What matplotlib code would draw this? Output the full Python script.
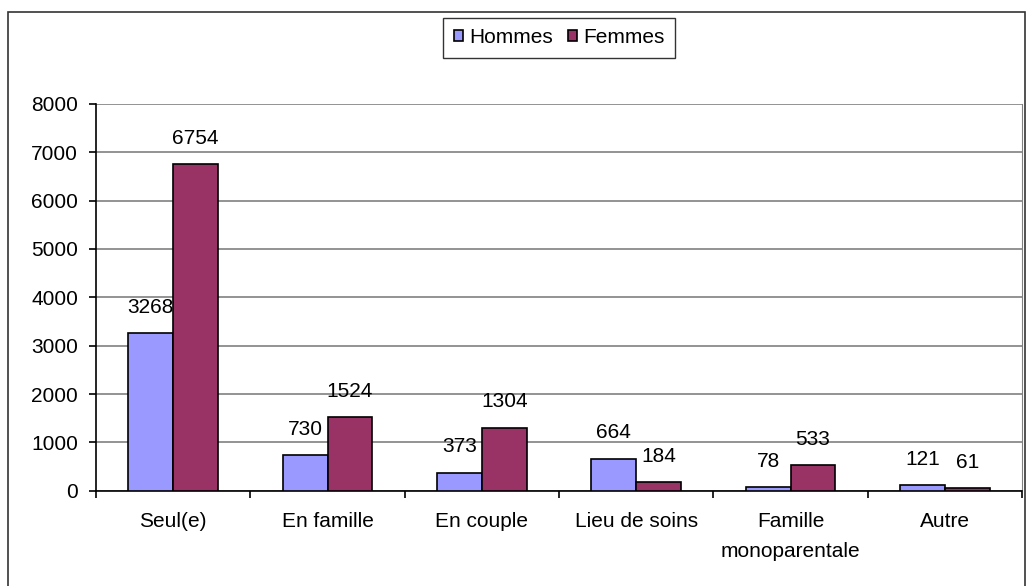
import matplotlib
matplotlib.use("Agg")
import matplotlib.pyplot as plt
import numpy as np
from matplotlib.patches import Rectangle

plt.rcParams['font.family'] = ['Liberation Sans', 'DejaVu Sans']

categories = ["Seul(e)", "En famille", "En couple", "Lieu de soins",
              "Famille\nmonoparentale", "Autre"]
hommes = [3268, 730, 373, 664, 78, 121]
femmes = [6754, 1524, 1304, 184, 533, 61]

fig = plt.figure(figsize=(10.29, 5.86), dpi=100)
ax = fig.add_axes([0.0933, 0.1626, 0.9000, 0.66])

# outer chart frame
fig.patches.append(Rectangle((8 / 1029, -0.05), (1025 - 8) / 1029, (586 - 12) / 586 + 0.05,
                             transform=fig.transFigure, fill=False,
                             edgecolor='#333333', linewidth=1.2, clip_on=False))

x = np.arange(len(categories))
w = 0.29
ax.bar(x - w / 2, hommes, w, color='#9999FF', edgecolor='black', linewidth=1.2,
       label='Hommes', zorder=3)
ax.bar(x + w / 2, femmes, w, color='#993366', edgecolor='black', linewidth=1.2,
       label='Femmes', zorder=3)

for xs, vals in ((x - w / 2, hommes), (x + w / 2, femmes)):
    for xi, v in zip(xs, vals):
        ax.annotate(str(v), (xi, v), xytext=(0, 18.5), textcoords='offset points',
                    ha='center', va='center', fontsize=15, zorder=4)

ax.set_xlim(-0.5, len(categories) - 0.5)
ax.set_ylim(0, 8000)
ax.set_yticks(np.arange(0, 8001, 1000))
ax.yaxis.grid(True, color='#808080', linewidth=1.2, zorder=0)
ax.set_xticks(np.arange(-0.5, len(categories), 1))
ax.set_xticklabels([])
ax.set_xticks(x, minor=True)
ax.set_xticklabels(categories, minor=True, fontsize=15, linespacing=1.75, va='top')
ax.tick_params(axis='x', which='minor', length=0, pad=15)
ax.tick_params(axis='x', which='major', length=5, width=1.2, direction='out')
ax.tick_params(axis='y', length=5, width=1.2, labelsize=15, pad=8)

ax.spines['top'].set_visible(False)
ax.spines['right'].set_color('#808080')
ax.spines['left'].set_linewidth(1.2)
ax.spines['bottom'].set_linewidth(1.2)

leg = ax.legend(loc='center', bbox_to_anchor=(0.5, 1.171), ncol=2, fontsize=15,
                frameon=True, fancybox=False, edgecolor='black', handlelength=0.45,
                handleheight=0.45, handletextpad=0.3, columnspacing=0.7,
                borderpad=0.5)
leg.get_frame().set_linewidth(1.0)

fig.savefig("out.png", dpi=100)
